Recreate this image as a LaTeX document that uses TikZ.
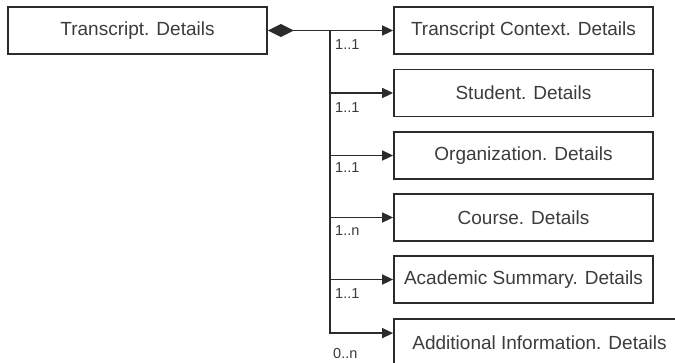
\documentclass[tikz,border=0pt]{standalone}
\usepackage{fontspec}
\setmainfont{Liberation Sans}
\usetikzlibrary{arrows.meta,calc}
\definecolor{ln}{HTML}{2B2B2B}
\definecolor{tx}{HTML}{3C3C3C}
\begin{document}
\begin{tikzpicture}[x=1pt,y=-1pt,
  box/.style={draw=ln,line width=1.8pt,minimum width=259pt,minimum height=47pt,inner sep=0pt,
    text=tx,font=\fontsize{19}{23}\selectfont},
  conn/.style={draw=ln,line width=1.7pt},
  arr/.style={conn,-{Triangle[length=11pt,width=10pt]}},
  mult/.style={text=tx,font=\fontsize{14.5}{17}\selectfont,anchor=west,inner sep=0pt}]
\clip (0,0) rectangle (675,362);
\fill[white] (0,0) rectangle (675,362);
\node[box] (m) at (137.5,30.5) {Transcript. Details};
\node[box] (b1) at (523.5,30.5) {Transcript Context. Details};
\node[box] (b2) at (523.5,93) {Student. Details};
\node[box] (b3) at (523.5,155.5) {Organization. Details};
\node[box] (b4) at (523.5,217.5) {Course. Details};
\node[box] (b5) at (523.5,279.5) {Academic Summary. Details};
\node[box,minimum width=291pt] (b6) at (539.5,342.5) {Additional Information. Details};
\coordinate (j) at (330,30.5);
\coordinate (e6) at ($(b6.north west)+(0,15)$);
\draw[conn,{Diamond[length=26pt,width=13pt]}-{Triangle[length=11pt,width=10pt]}] (m.east) -- (b1.west);
\draw[arr] (j) |- (e6);
\draw[arr] (j |- b2.west) -- (b2.west);
\draw[arr] (j |- b3.west) -- (b3.west);
\draw[arr] (j |- b4.west) -- (b4.west);
\draw[arr] (j |- b5.west) -- (b5.west);
\node[mult] (l1) at (335,45) {1..1};
\node[mult] (l2) at (335,108) {1..1};
\node[mult] (l3) at (335,168) {1..1};
\node[mult] (l4) at (335,231) {1..n};
\node[mult] (l5) at (335,294) {1..1};
\node[mult] (l6) at (333,354) {0..n};
\end{tikzpicture}
\end{document}
